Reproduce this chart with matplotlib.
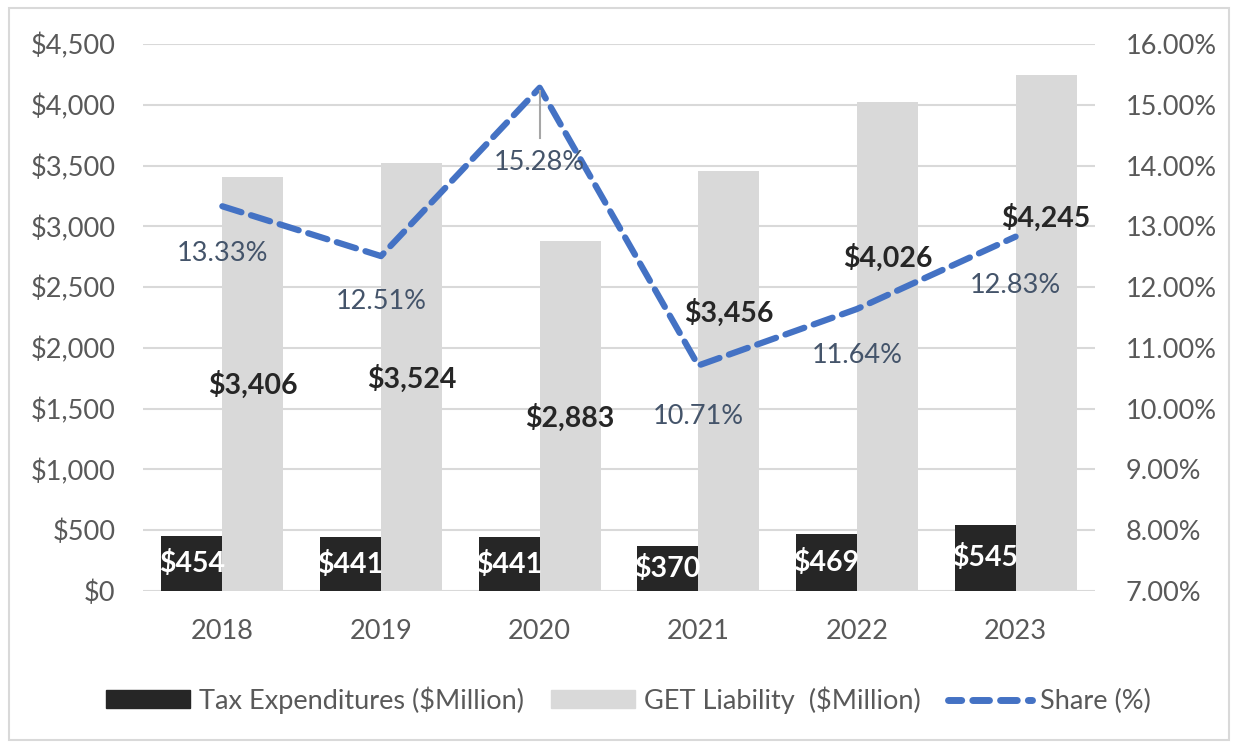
import matplotlib.pyplot as plt
import numpy as np
from matplotlib.patches import Rectangle
from matplotlib.lines import Line2D
from matplotlib.patches import Patch

years = ["2018", "2019", "2020", "2021", "2022", "2023"]
tax_exp = [454, 441, 441, 370, 469, 545]
get_liab = [3406, 3524, 2883, 3456, 4026, 4245]
share = [13.33, 12.51, 15.28, 10.71, 11.64, 12.83]

# where the labels sit
liab_label_y = [1694, 1743, 1423, 2286, 2738, 3067]
share_label_y = [12.56, 11.77, 14.05, 9.87, 10.87, 12.02]

plt.rcParams['font.family'] = ['Lato', 'DejaVu Sans']

fig = plt.figure(figsize=(12.35, 7.48), dpi=100)
fig.patches.append(Rectangle((0.007, 0.011), 0.988, 0.978, transform=fig.transFigure,
                             fill=False, edgecolor="#D9D9D9", linewidth=1.5))

ax = fig.add_axes([0.1158, 0.2099, 0.7708, 0.7313])
ax2 = ax.twinx()

x = np.arange(len(years))
w = 0.385
ax.bar(x - w / 2, tax_exp, w, color="#262626", zorder=3, label="Tax Expenditures ($Million)")
ax.bar(x + w / 2, get_liab, w, color="#D9D9D9", zorder=3, label="GET Liability  ($Million)")

ax.set_xlim(-0.5, 5.5)
ax.set_ylim(0, 4500)
ax.set_yticks(np.arange(0, 4501, 500))
ax.set_yticklabels([f"${v:,}" for v in range(0, 4501, 500)])
ax.set_xticks(x)
ax.set_xticklabels(years)
ax.grid(axis="y", color="#D9D9D9", linewidth=1.5, zorder=0)
ax.set_axisbelow(True)

for a in (ax, ax2):
    for s in a.spines.values():
        s.set_visible(False)
    a.tick_params(length=0, labelsize=19.5, labelcolor="#595959")
ax.tick_params(axis="x", pad=20)
ax.tick_params(axis="y", pad=20)
ax2.tick_params(axis="y", pad=22)

for i in range(len(years)):
    ax.text(x[i] - w / 2, tax_exp[i] / 2, f"${tax_exp[i]}", ha="center", va="center",
            color="white", fontsize=20.5, fontweight="bold", zorder=5)
    ax.text(x[i] + w / 2, liab_label_y[i], f"${get_liab[i]:,}", ha="center", va="center",
            color="#262626", fontsize=20.5, fontweight="bold", zorder=5)

ax2.plot(x, share, color="#4472C4", linewidth=4.5, linestyle=(0, (3.2, 1.6)),
         dash_capstyle="round", zorder=4)
ax2.set_ylim(7, 16)
ax2.set_yticks(np.arange(7, 16.01, 1))
ax2.set_yticklabels([f"{v:.2f}%" for v in np.arange(7, 16.01, 1)])

for i in range(len(years)):
    ax2.text(x[i], share_label_y[i], f"{share[i]:.2f}%", ha="center", va="center",
             color="#44546A", fontsize=19.5, zorder=6)
# leader line for 2020 label
ax2.plot([2, 2], [15.22, 14.45], color="#A6A6A6", linewidth=1.5, zorder=5)

handles = [Patch(color="#262626"), Patch(color="#D9D9D9"),
           Line2D([0], [0], color="#4472C4", linewidth=5, linestyle=(0.5, (2.4, 1.6)),
                  dash_capstyle="round")]
labels = ["Tax Expenditures ($Million)", "GET Liability  ($Million)", "Share (%)"]
fig.legend(handles, labels, loc="center", bbox_to_anchor=(0.509, 0.064), ncol=3,
           frameon=False, fontsize=19.5, labelcolor="#595959", handlelength=3.1,
           handleheight=0.63, columnspacing=1.0, handletextpad=0.33)

fig.savefig("out.png", dpi=100)
